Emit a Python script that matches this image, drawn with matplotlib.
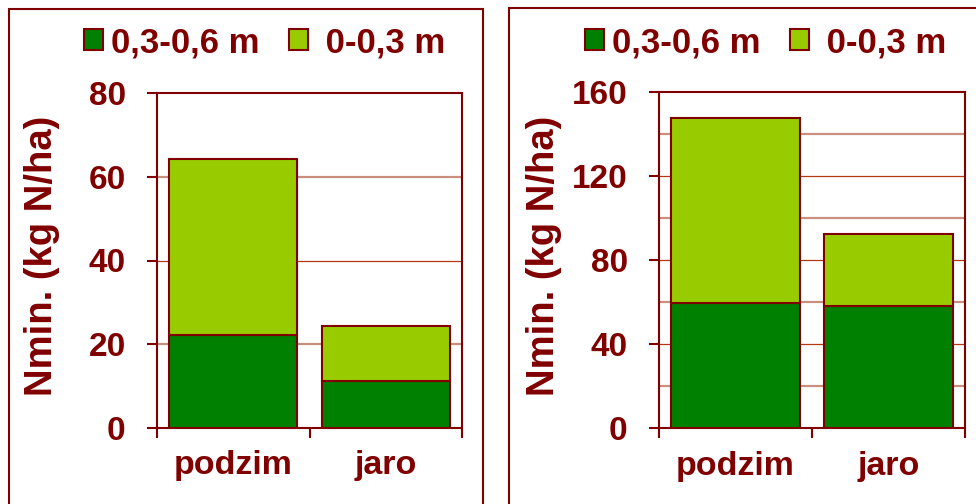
import matplotlib
matplotlib.use('Agg')
import matplotlib.pyplot as plt
from matplotlib.patches import Rectangle, Patch
from matplotlib.ticker import MultipleLocator, FixedLocator

plt.rcParams['font.family'] = ['Liberation Sans', 'DejaVu Sans']
plt.rcParams['font.weight'] = 'bold'
plt.rcParams['axes.labelweight'] = 'bold'

# --- data -------------------------------------------------------------
seasons = ['podzim', 'jaro']
layers = ['0,3-0,6 m', ' 0-0,3 m']
ylabel_text = 'Nmin. (kg N/ha)'

# left plot: mineral N per soil layer (kg N/ha)
nmin_a_deep = [22.1, 11.2]    # 0,3-0,6 m
nmin_a_top = [42.1, 13.2]     # 0-0,3 m
# right plot
nmin_b_deep = [59.5, 58.3]
nmin_b_top = [88.3, 34.3]

# --- style ------------------------------------------------------------
DARK_RED = '#800000'
DEEP_GREEN = '#008000'
LIGHT_GREEN = '#99cc00'
GRID_TAN = '#c8907c'
GRID_RED = '#b03a10'

W, H = 976, 504
fig = plt.figure(figsize=(W / 100, H / 100), dpi=100)


def px_rect(x0, y0, x1, y1):
    """Pixel box (from top-left corner) -> figure fraction [l, b, w, h]."""
    return [x0 / W, 1 - y1 / H, (x1 - x0) / W, (y1 - y0) / H]


panels = [
    dict(frame=(9, 9, 483, 530), axes=(157, 93, 462, 428), deep=nmin_a_deep,
         top=nmin_a_top, ymax=80, label_step=20, legend_x=84, ylabel_x=42),
    dict(frame=(509, 8, 1000, 530), axes=(659, 92, 965, 428.3), deep=nmin_b_deep,
         top=nmin_b_top, ymax=160, label_step=40, legend_x=585, ylabel_x=544),
]

for p in panels:
    # panel frame
    fx0, fy0, fx1, fy1 = p['frame']
    l, b, w, h = px_rect(fx0, fy0, fx1, fy1)
    fig.add_artist(Rectangle((l, b), w, h, transform=fig.transFigure, fill=False,
                             edgecolor=DARK_RED, linewidth=1.5, clip_on=False))

    ax = fig.add_axes(px_rect(*p['axes']))
    x = range(len(seasons))
    ax.bar(x, p['deep'], width=0.84, color=DEEP_GREEN, edgecolor=DARK_RED,
           linewidth=1.5, zorder=3)
    ax.bar(x, p['top'], bottom=p['deep'], width=0.84, color=LIGHT_GREEN,
           edgecolor=DARK_RED, linewidth=1.5, zorder=3)

    ax.set_xlim(-0.5, len(seasons) - 0.5)
    ax.set_ylim(0, p['ymax'])

    # horizontal grid every 20, alternating light/dark lines
    for v in range(20, p['ymax'], 20):
        if (v // 20) % 2 == 1:
            ax.axhline(v, color=GRID_TAN, linewidth=1.6, zorder=1)
        else:
            ax.axhline(v, color=GRID_RED, linewidth=0.9, zorder=1)

    # x: tick marks between categories, labels centred on bars
    ax.xaxis.set_major_locator(FixedLocator([i - 0.5 for i in range(len(seasons) + 1)]))
    ax.xaxis.set_major_formatter(plt.NullFormatter())
    ax.xaxis.set_minor_locator(FixedLocator(list(x)))
    ax.set_xticklabels(seasons, minor=True)
    ax.tick_params(axis='x', which='major', direction='out', length=7.5, width=1.5,
                   color=DARK_RED)
    ax.tick_params(axis='x', which='minor', length=0, pad=16, labelsize=24.5,
                   labelcolor=DARK_RED)

    ax.yaxis.set_major_locator(MultipleLocator(p['label_step']))
    ax.tick_params(axis='y', direction='out', length=7.5, width=1.5, pad=15,
                   color=DARK_RED, labelsize=24, labelcolor=DARK_RED)

    for s in ax.spines.values():
        s.set_color(DARK_RED)
        s.set_linewidth(1.5)

    ax0, ay0, ax1, ay1 = p['axes']
    ax.set_ylabel(ylabel_text, fontsize=27.5, fontweight='bold', color=DARK_RED,
                  va='center')
    ax.yaxis.set_label_coords((p['ylabel_x'] - ax0) / (ax1 - ax0),
                              (ay1 - 255.5) / (ay1 - ay0))

    handles = [Patch(facecolor=DEEP_GREEN, edgecolor=DARK_RED, linewidth=1.5),
               Patch(facecolor=LIGHT_GREEN, edgecolor=DARK_RED, linewidth=1.5)]
    ax.legend(handles, layers, ncol=2, loc='center left',
              bbox_to_anchor=(p['legend_x'] / W, 1 - 42.5 / H),
              bbox_transform=fig.transFigure, frameon=False, fontsize=25,
              handlelength=0.55, handleheight=0.55, handletextpad=0.23,
              columnspacing=0.84, borderpad=0, borderaxespad=0,
              labelcolor=DARK_RED)

fig.savefig('out.png', dpi=100)
